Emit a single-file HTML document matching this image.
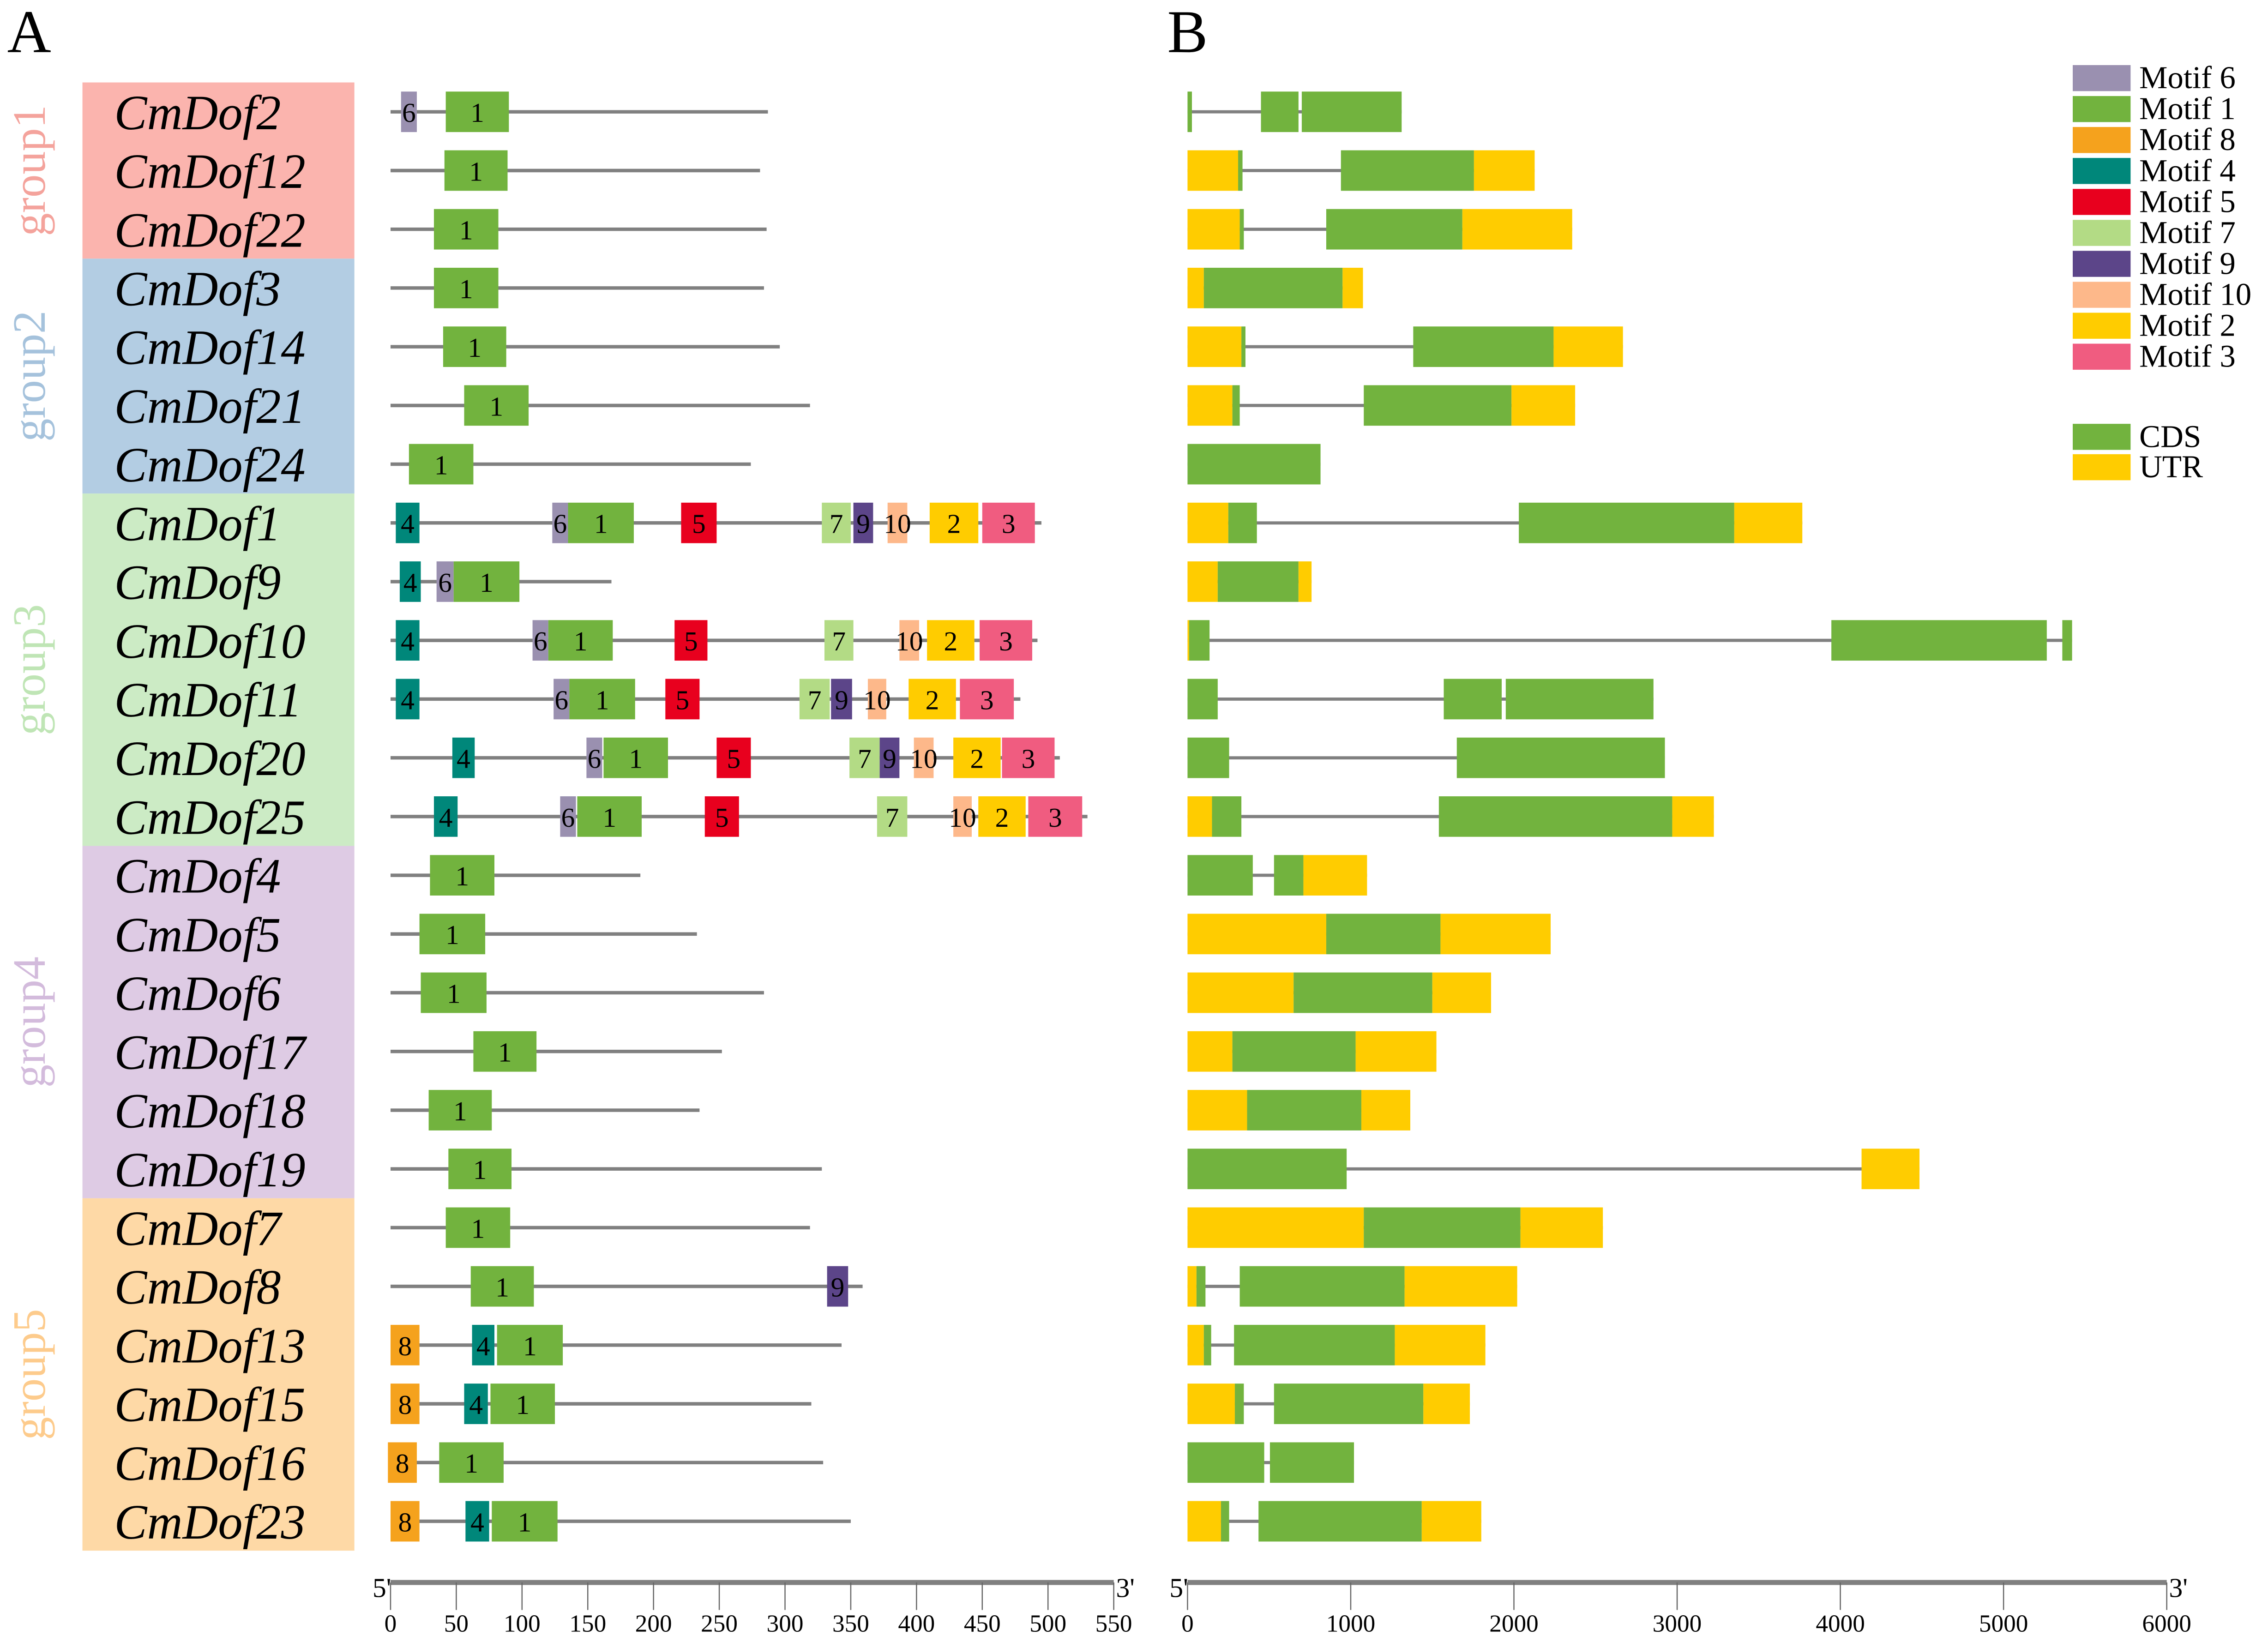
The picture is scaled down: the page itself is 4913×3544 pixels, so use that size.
<!DOCTYPE html>
<html><head><meta charset="utf-8"><style>
html,body{margin:0;padding:0;background:#fff;}
svg{display:block;}
text{font-family:"Liberation Serif",serif;}
</style></head><body>
<svg id="chart" xmlns="http://www.w3.org/2000/svg" width="4913" height="3544" viewBox="0 0 1568 1131" preserveAspectRatio="none">
<text x="5" y="36" font-size="42">A</text>
<text x="807" y="36" font-size="42">B</text>
<g id="groups"></g><g id="panelA"></g><g id="panelB"></g><g id="legend"></g><g id="axes"></g>
</svg>
<script>
const NS="http://www.w3.org/2000/svg";
const genes=["CmDof2","CmDof12","CmDof22","CmDof3","CmDof14","CmDof21","CmDof24","CmDof1","CmDof9","CmDof10","CmDof11","CmDof20","CmDof25","CmDof4","CmDof5","CmDof6","CmDof17","CmDof18","CmDof19","CmDof7","CmDof8","CmDof13","CmDof15","CmDof16","CmDof23"];
const groupNames=["group1","group2","group3","group4","group5"];
const groupSizes=[3,4,6,6,6];
const proteinLengths=[287,281,286,284,296,319,274,495,168,492,479,509,530,190,233,284,252,235,328,319,359,343,320,329,350];
// motifs: [motif, start, end]
const motifs=[
[[6,8,20],[1,42,90]],
[[1,41,89]],
[[1,33,82]],
[[1,33,82]],
[[1,40,88]],
[[1,56,105]],
[[1,14,63]],
[[4,4,22],[6,123,135],[1,135,185],[5,221,248],[7,328,350],[9,352,367],[10,378,393],[2,410,447],[3,450,490]],
[[4,7,23],[6,35,48],[1,48,98]],
[[4,4,22],[6,108,120],[1,120,169],[5,216,241],[7,330,352],[10,387,402],[2,408,444],[3,448,488]],
[[4,4,22],[6,124,136],[1,136,186],[5,209,235],[7,311,334],[9,335,351],[10,363,377],[2,394,430],[3,433,474]],
[[4,47,64],[6,149,161],[1,162,211],[5,248,274],[7,349,372],[9,372,387],[10,398,413],[2,428,464],[3,465,505]],
[[4,33,51],[6,129,141],[1,142,191],[5,239,265],[7,370,393],[10,428,442],[2,447,483],[3,485,526]],
[[1,30,79]],
[[1,22,72]],
[[1,23,73]],
[[1,63,111]],
[[1,29,77]],
[[1,44,92]],
[[1,42,91]],
[[1,61,109],[9,332,348]],
[[8,0,22],[4,62,79],[1,81,131]],
[[8,0,22],[4,56,74],[1,76,125]],
[[8,-2,20],[1,37,86]],
[[8,0,22],[4,57,75],[1,77,127]]
];
const geneLengths=[1312,2127,2357,1075,2668,2375,815,3767,760,5420,2855,2925,3225,1100,2225,1860,1525,1365,4485,2545,2020,1825,1730,1020,1800];
// features: [type C=CDS U=UTR, start, end]
const features=[
[["C",0,27],["C",450,680],["C",700,1312]],
[["U",0,310],["C",310,337],["C",940,1755],["U",1755,2127]],
[["U",0,320],["C",320,345],["C",850,1684],["U",1684,2357]],
[["U",0,100],["C",100,950],["U",950,1075]],
[["U",0,330],["C",330,355],["C",1383,2243],["U",2243,2668]],
[["U",0,275],["C",275,320],["C",1080,1985],["U",1985,2375]],
[["C",0,815]],
[["U",0,250],["C",250,425],["C",2030,3350],["U",3350,3767]],
[["U",0,185],["C",185,680],["U",680,760]],
[["U",0,10],["C",10,135],["C",3945,5265],["C",5360,5420]],
[["C",0,185],["C",1570,1925],["C",1950,2855]],
[["C",0,255],["C",1650,2925]],
[["U",0,150],["C",150,330],["C",1540,2970],["U",2970,3225]],
[["C",0,400],["C",530,710],["U",710,1100]],
[["U",0,850],["C",850,1550],["U",1550,2225]],
[["U",0,650],["C",650,1500],["U",1500,1860]],
[["U",0,275],["C",275,1030],["U",1030,1525]],
[["U",0,365],["C",365,1065],["U",1065,1365]],
[["C",0,975],["U",4130,4485]],
[["U",0,1080],["C",1080,2040],["U",2040,2545]],
[["U",0,55],["C",55,110],["C",320,1330],["U",1330,2020]],
[["U",0,100],["C",100,145],["C",285,1270],["U",1270,1825]],
[["U",0,290],["C",290,345],["C",530,1445],["U",1445,1730]],
[["C",0,470],["C",505,1020]],
[["U",0,205],["C",205,255],["C",435,1435],["U",1435,1800]]
];
const legendMotifs=[6,1,8,4,5,7,9,10,2,3];
const ticksA=[0,50,100,150,200,250,300,350,400,450,500,550];
const ticksB=[0,1000,2000,3000,4000,5000,6000];

const motifColor={1:"#72B33E",2:"#FFCC00",3:"#F05C80",4:"#00877A",5:"#E8001E",6:"#9A90B0",7:"#B3DB85",8:"#F5A21D",9:"#5C4589",10:"#FDB88A"};
const groupBg=["#FBB4AE","#B3CDE3","#CCEBC5","#DECBE4","#FED9A6"];
const groupTxt=["#F4A39C","#A5C2DC","#BFE5B5","#D3BBDC","#FDCB8C"];
const CDS="#72B33E",UTR="#FFCC00";
const xA=v=>270+v*(500/550);
const xB=v=>821+v*(677/6000);
const rowTop=57,rowH=40.6;
const yC=i=>rowTop+rowH*(i+0.5);
function mk(tag,attrs,parent,txt){const e=document.createElementNS(NS,tag);for(const k in attrs)e.setAttribute(k,attrs[k]);if(txt!==undefined)e.textContent=txt;parent.appendChild(e);return e;}
const gG=document.getElementById("groups"),gA=document.getElementById("panelA"),gB=document.getElementById("panelB"),gL=document.getElementById("legend"),gX=document.getElementById("axes");

let r=0;
groupSizes.forEach((n,gi)=>{
  const y0=rowTop+r*rowH,h=n*rowH;
  const b=mk("rect",{x:57,y:y0,width:188,height:h,fill:groupBg[gi]},gG);
  
  
  const cy=y0+h/2;
  const t=mk("text",{x:0,y:0,transform:`translate(31,${cy}) rotate(-90)`,"text-anchor":"middle","font-size":32,fill:groupTxt[gi]},gG,groupNames[gi]);
  
  
  r+=n;
});
genes.forEach((g,i)=>{
  const t=mk("text",{x:79,y:yC(i)+12,"font-size":34,"font-style":"italic"},gG,g);
  
  
});

genes.forEach((g,i)=>{
  const y=yC(i);
  const ln=mk("line",{x1:xA(0),x2:xA(proteinLengths[i]),y1:y,y2:y,stroke:"#808080","stroke-width":2.4},gA);
  
  
  motifs[i].forEach(m=>{
    const x0=xA(m[1]),x1=xA(m[2]);
    const b=mk("rect",{x:x0,y:y-14,width:x1-x0,height:28,fill:motifColor[m[0]]},gA);
    
    
    const t=mk("text",{x:(x0+x1)/2,y:y+7,"text-anchor":"middle","font-size":19},gA,String(m[0]));
    
    
  });
});

genes.forEach((g,i)=>{
  const y=yC(i);
  const ln=mk("line",{x1:xB(0),x2:xB(geneLengths[i]),y1:y,y2:y,stroke:"#808080","stroke-width":2.2},gB);
  
  
  features[i].forEach(f=>{
    const x0=xB(f[1]),x1=xB(f[2]);
    const b=mk("rect",{x:x0,y:y-14,width:Math.max(1,x1-x0),height:28,fill:f[0]==="C"?CDS:UTR},gB);
    
    
  });
});

legendMotifs.forEach((m,k)=>{
  const y=54+k*21.4;
  const b=mk("rect",{x:1433,y:y-9,width:40,height:18,fill:motifColor[m]},gL);
  
  
  const t=mk("text",{x:1479,y:y+7,"font-size":22},gL,"Motif "+m);
  
  
});
[["CDS",CDS,302],["UTR",UTR,323]].forEach(e=>{
  const b=mk("rect",{x:1433,y:e[2]-9,width:40,height:18,fill:e[1]},gL);
  
  
  const t=mk("text",{x:1479,y:e[2]+7,"font-size":22},gL,e[0]);
  
  
});

function axis(fx,ticks,name,last){
  const ay=1094;
  const l=mk("line",{x1:fx(0),x2:fx(last),y1:ay,y2:ay,stroke:"#808080","stroke-width":3.5},gX);
  
  
  ticks.forEach(v=>{
    const tk=mk("line",{x1:fx(v),x2:fx(v),y1:ay,y2:1113,stroke:"#666","stroke-width":0.8},gX);
    
    
    const t=mk("text",{x:fx(v),y:1128,"text-anchor":"middle","font-size":17},gX,String(v));
    
    
  });
  const a=mk("text",{x:fx(0)-6,y:1104,"text-anchor":"middle","font-size":19},gX,"5'");
  
  
  const b=mk("text",{x:fx(last)+8,y:1104,"text-anchor":"middle","font-size":19},gX,"3'");
  
  
}
axis(xA,ticksA,"panel-a-x",550);
axis(xB,ticksB,"panel-b-x",6000);
</script>
</body></html>
